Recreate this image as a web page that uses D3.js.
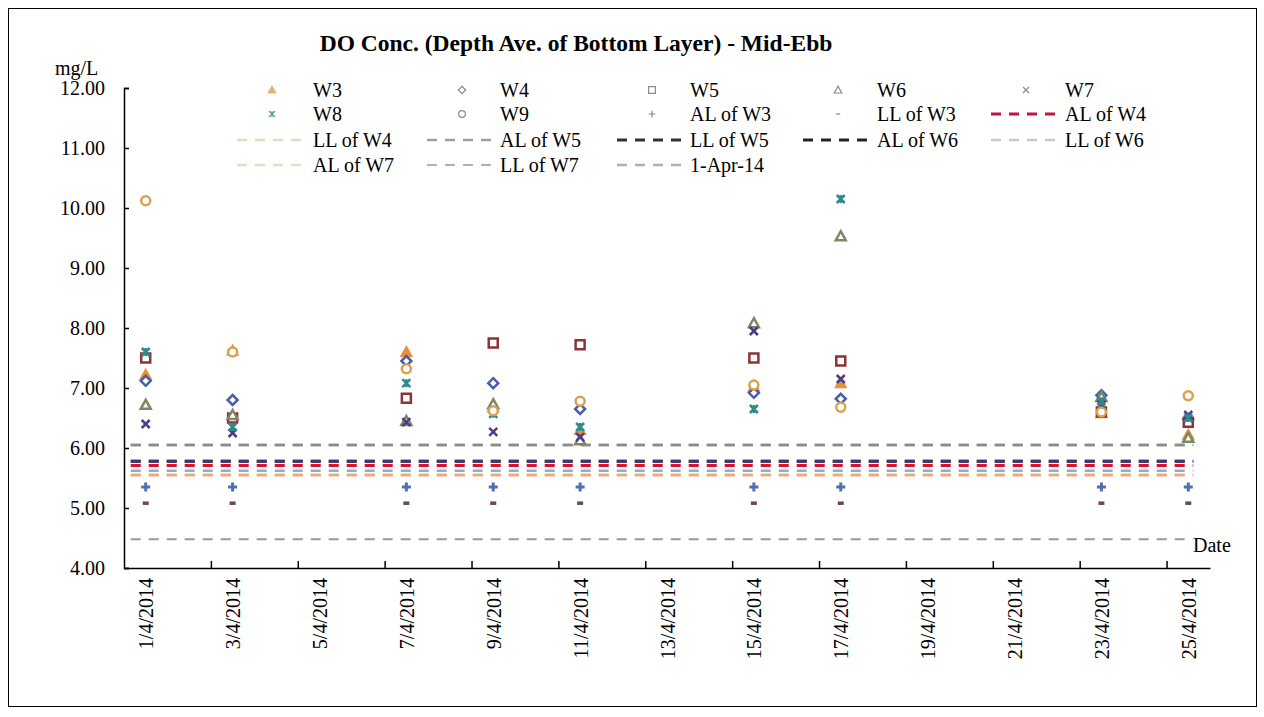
<!DOCTYPE html>
<html><head><meta charset="utf-8">
<script src="https://cdn.jsdelivr.net/npm/d3@7"></script>
<style>
body{margin:0;background:#fff;}
text{font-family:"Liberation Serif","Times New Roman",serif;}
</style></head>
<body><svg id="c" width="1264" height="717"></svg>
<script>
const dates = [1, 3, 7, 9, 11, 15, 17, 23, 25];
const tickDays = [1, 3, 5, 7, 9, 11, 13, 15, 17, 19, 21, 23, 25];
const tickLabels = ["1/4/2014","3/4/2014","5/4/2014","7/4/2014","9/4/2014","11/4/2014","13/4/2014","15/4/2014","17/4/2014","19/4/2014","21/4/2014","23/4/2014","25/4/2014"];
const yTicks = [4, 5, 6, 7, 8, 9, 10, 11, 12];

const W3 = [7.22, 7.62, 7.60, 6.68, 6.30, 7.02, 7.08, 6.58, 6.22];
const W4 = [7.12, 6.80, 7.45, 7.08, 6.65, 6.92, 6.82, 6.88, 6.48];
const W5 = [7.50, 6.50, 6.83, 7.75, 7.72, 7.50, 7.45, 6.60, 6.43];
const W6 = [6.72, 6.55, 6.45, 6.73, 6.13, 8.08, 9.53, 6.85, 6.17];
const W7 = [6.40, 6.25, 6.43, 6.27, 6.18, 7.95, 7.15, 6.72, 6.55];
const W8 = [7.60, 6.35, 7.08, 6.57, 6.35, 6.65, 10.15, 6.78, 6.50];
const W9 = [10.12, 7.60, 7.32, 6.62, 6.78, 7.05, 6.68, 6.60, 6.87];
const AL_W3 = [5.35, 5.35, 5.35, 5.35, 5.35, 5.35, 5.35, 5.35, 5.35];
const LL_W3 = [5.08, 5.08, 5.08, 5.08, 5.08, 5.08, 5.08, 5.08, 5.08];

const levelNames = ["AL of W4","LL of W4","AL of W5","LL of W5","AL of W6","LL of W6","AL of W7","LL of W7","1-Apr-14"];
const levelValues = [5.71, 5.55, 6.05, 5.78, 5.78, 5.62, 5.55, 4.48, 6.05];

const svg = d3.select("#c");
svg.append("rect").attr("x",8.5).attr("y",8.5).attr("width",1248).attr("height",698)
  .attr("fill","#fff").attr("stroke","#000").attr("stroke-width",1);

const x = d3.scaleLinear().domain([0.5, 25.5]).range([124, 1210]);
const y = d3.scaleLinear().domain([4, 12]).range([568, 88]);

function markerPath(type, s){
  const h = s/2;
  switch(type){
    case "triangle": return `M0,${-h}L${h},${h*0.8}L${-h},${h*0.8}Z`;
    case "diamond": return `M0,${-h}L${h},0L0,${h}L${-h},0Z`;
    case "square": return `M${-h},${-h}H${h}V${h}H${-h}Z`;
    case "x": return `M${-h},${-h}L${h},${h}M${h},${-h}L${-h},${h}`;
    case "asterisk": return `M${-h},${-h}L${h},${h}M${h},${-h}L${-h},${h}M0,${-h}V${h}`;
    case "circle": return `M${h},0A${h},${h} 0 1,1 ${-h},0A${h},${h} 0 1,1 ${h},0Z`;
    case "plus": return `M${-h},0H${h}M0,${-h}V${h}`;
    case "dash": return `M${-h*0.6},0H${h*0.6}`;
  }
}

const series = [
  {name:"W3", vals:W3, type:"triangle", color:"#E8913A", fill:"#E8913A", size:10, sw:2},
  {name:"W4", vals:W4, type:"diamond", color:"#4A5FAA", fill:"#fff", size:10, sw:2.5},
  {name:"W5", vals:W5, type:"square", color:"#8B3338", fill:"#fff", size:9, sw:2.5},
  {name:"W6", vals:W6, type:"triangle", color:"#7C8960", fill:"#fff", size:10, sw:2.5},
  {name:"W7", vals:W7, type:"x", color:"#4B3C8C", fill:"none", size:8, sw:2.5},
  {name:"W8", vals:W8, type:"asterisk", color:"#2E8B8B", fill:"none", size:8, sw:2.5},
  {name:"W9", vals:W9, type:"circle", color:"#D9A050", fill:"#fff", size:9, sw:2.5},
  {name:"AL of W3", vals:AL_W3, type:"plus", color:"#4F6FB0", fill:"none", size:9, sw:3},
  {name:"LL of W3", vals:LL_W3, type:"dash", color:"#6B4A4A", fill:"none", size:10, sw:3.5}
];

const levelStyle = {
  "AL of W4": {color:"#E0102A", w:3},
  "LL of W4": {color:"#F2A577", w:2.5},
  "AL of W5": {color:"#8C8C8C", w:2.5},
  "LL of W5": {color:"#3A3A6A", w:3},
  "AL of W6": {color:"#3A3A6A", w:3},
  "LL of W6": {color:"#86AEDC", w:2.5},
  "AL of W7": {color:"#F2A577", w:2.5},
  "LL of W7": {color:"#9A9A9A", w:2},
  "1-Apr-14": {color:"#8C8C8C", w:2.5}
};
const legendLineColor = {
  "AL of W4": "#C0143C", "LL of W4": "#E8D8C0", "AL of W5": "#A0A0A0",
  "LL of W5": "#303040", "AL of W6": "#202030", "LL of W6": "#C8C8C8",
  "AL of W7": "#E8DCC8", "LL of W7": "#B0B0B0", "1-Apr-14": "#B0B0B0"
};

const lineGen = d3.line().x(d=>d[0]).y(d=>d[1]);
levelNames.forEach((n,i)=>{
  const st = levelStyle[n];
  svg.append("path")
    .attr("d", lineGen([[x(1)-15, y(levelValues[i])],[x(25)+5, y(levelValues[i])]]))
    .attr("stroke", st.color).attr("stroke-width", st.w)
    .attr("stroke-dasharray","10,8").attr("fill","none");
});

series.forEach(s=>{
  svg.append("g").selectAll("path").data(s.vals).join("path")
    .attr("transform",(d,i)=>`translate(${x(dates[i])},${y(d)})`)
    .attr("d", markerPath(s.type, s.size))
    .attr("fill", s.fill).attr("stroke", s.color).attr("stroke-width", s.sw);
});

const FS = 20;
const yAxis = d3.axisLeft(y).tickValues(yTicks).tickSize(-5).tickPadding(19).tickFormat(d=>d.toFixed(2));
const gy = svg.append("g").attr("transform","translate(124,0)").call(yAxis);
gy.selectAll("text").attr("font-size",FS).attr("font-family","Liberation Serif").attr("fill","#000");
gy.select(".domain").attr("stroke","#000").attr("stroke-width",1.5);
gy.selectAll(".tick line").attr("stroke","#000").attr("stroke-width",1.5);

const boundaries = d3.range(2.5, 25.6, 2);
const xTickAxis = d3.axisBottom(x).tickValues(boundaries).tickSize(-7).tickSizeOuter(0).tickFormat("");
const gx = svg.append("g").attr("transform","translate(0,568)").call(xTickAxis);
gx.select(".domain").attr("stroke","#000").attr("stroke-width",1.5);
gx.selectAll(".tick line").attr("stroke","#000").attr("stroke-width",1.5);

const xLabAxis = d3.axisBottom(x).tickValues(tickDays).tickSize(0).tickFormat((d,i)=>tickLabels[i]);
const gxl = svg.append("g").attr("transform","translate(0,568)").call(xLabAxis);
gxl.select(".domain").remove();
gxl.selectAll("text")
  .attr("font-size",FS).attr("font-family","Liberation Serif").attr("fill","#000")
  .attr("transform","rotate(-90)").attr("text-anchor","end")
  .attr("x",-10).attr("y",0).attr("dy","0.35em");

svg.append("text").attr("x",576).attr("y",51).attr("text-anchor","middle")
  .attr("font-size",23.5).attr("font-weight","bold").text("DO Conc. (Depth Ave. of Bottom Layer) - Mid-Ebb");
svg.append("text").attr("x",55).attr("y",75).attr("font-size",FS).text("mg/L");
svg.append("text").attr("x",1193).attr("y",552).attr("font-size",FS).text("Date");

const legendItems = [
  ...series.map(s=>({name:s.name, kind:"m", s})),
  ...levelNames.map(n=>({name:n, kind:"l", st:levelStyle[n]}))
];
const colSym = [272, 462, 652, 838, 1026];
const colText = [313, 500, 690, 877, 1065];
const rowY = [90, 114, 140, 165];
const lg = svg.append("g");
legendItems.forEach((it,i)=>{
  const r = Math.floor(i/5), c = i%5;
  const cy = rowY[r];
  const g = lg.append("g");
  if(it.kind==="m"){
    g.append("path").attr("transform",`translate(${colSym[c]},${cy})`)
      .attr("d", markerPath(it.s.type, it.s.size*0.75))
      .attr("fill", it.name==="W3" ? "#E8B070" : (it.s.fill==="#fff"?"#fff":"none"))
      .attr("stroke", it.name==="W3"?"#E8B070":(it.name==="W8"?"#5FA080":"#8a8a8a"))
      .attr("stroke-width",1.2);
  } else {
    g.append("path").attr("d", lineGen([[colSym[c]-35, cy],[colSym[c]+30, cy]]))
      .attr("stroke", legendLineColor[it.name]).attr("stroke-width", it.st.w)
      .attr("stroke-dasharray","10,8").attr("fill","none");
  }
  g.append("text").attr("x",colText[c]).attr("y",cy).attr("dy","0.35em")
    .attr("font-size",FS).text(it.name);
});
</script></body></html>
